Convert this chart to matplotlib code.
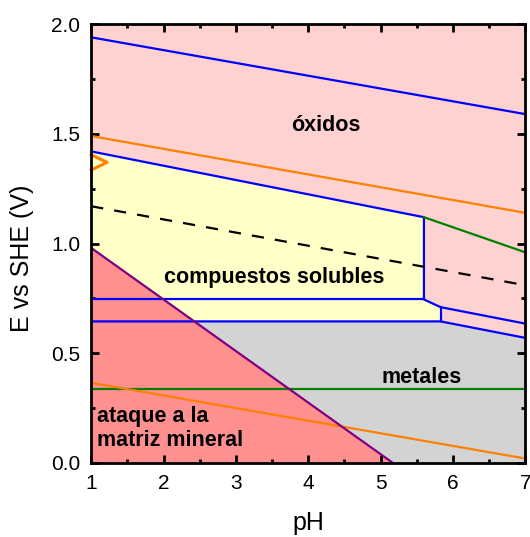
import matplotlib.pyplot as plt
from matplotlib.ticker import MultipleLocator

plt.rcParams['font.family'] = ['Liberation Sans', 'DejaVu Sans']

# boundary lines (pH, E)
blue_top_x = [1, 7]
blue_top_y = [1.94, 1.59]
orange_top_x = [1, 7]
orange_top_y = [1.49, 1.14]
blue_sol_x = [1, 5.6, 5.6, 5.83, 7]
blue_sol_y = [1.42, 1.12, 0.745, 0.71, 0.635]
blue_mid_x = [1, 5.6]
blue_mid_y = [0.745, 0.745]
blue_low_x = [1, 5.83, 7]
blue_low_y = [0.645, 0.645, 0.57]
blue_step_x = [5.83, 5.83]
blue_step_y = [0.71, 0.645]
green_top_x = [5.6, 7]
green_top_y = [1.12, 0.96]
green_low_x = [1, 7]
green_low_y = [0.335, 0.335]
orange_low_x = [1, 7]
orange_low_y = [0.365, 0.02]
purple_x = [1, 5.17]
purple_y = [0.98, 0.0]
dash_x = [1, 7]
dash_y = [1.17, 0.81]
chevron_x = [1, 1.22, 1]
chevron_y = [1.405, 1.37, 1.335]

# filled regions
yellow_x = [1, 5.6, 5.6, 5.83, 5.83, 1]
yellow_y = [1.42, 1.12, 0.745, 0.71, 0.645, 0.645]
red_x = [1, 1, 5.17]
red_y = [0.0, 0.98, 0.0]

fig = plt.figure(figsize=(5.30, 5.37), dpi=100)
ax = fig.add_axes([0.172, 0.138, 0.819, 0.817])
ax.set_facecolor('#FFD2D2')

ax.fill_between(blue_low_x, blue_low_y, 0, color='#D3D3D3', lw=0)
ax.fill(yellow_x, yellow_y, color='#FFFFC8', lw=0)
ax.fill(red_x, red_y, color='#FF9090', lw=0)

lw = 1.6
ax.plot(blue_top_x, blue_top_y, color='#0000FF', lw=lw)
ax.plot(orange_top_x, orange_top_y, color='#FF8000', lw=lw)
ax.plot(blue_sol_x, blue_sol_y, color='#0000FF', lw=lw)
ax.plot(blue_mid_x, blue_mid_y, color='#0000FF', lw=lw)
ax.plot(blue_low_x, blue_low_y, color='#0000FF', lw=lw)
ax.plot(blue_step_x, blue_step_y, color='#0000FF', lw=lw)
ax.plot(green_top_x, green_top_y, color='#008000', lw=lw)
ax.plot(green_low_x, green_low_y, color='#008000', lw=lw)
ax.plot(orange_low_x, orange_low_y, color='#FF8000', lw=lw)
ax.plot(purple_x, purple_y, color='#800080', lw=lw)
ax.plot(dash_x, dash_y, color='black', lw=lw, ls=(0, (5.5, 5)))
ax.plot(chevron_x, chevron_y, color='#FF8000', lw=2.2, clip_on=False)

ax.text(4.24, 1.54, 'óxidos', fontsize=15.5, fontweight='bold', ha='center', va='center')
ax.text(3.53, 0.845, 'compuestos solubles', fontsize=15.5, fontweight='bold', ha='center', va='center')
ax.text(5.57, 0.39, 'metales', fontsize=15.5, fontweight='bold', ha='center', va='center')
ax.text(1.08, 0.155, 'ataque a la\nmatriz mineral', fontsize=15.5, fontweight='bold',
        ha='left', va='center', linespacing=1.2)

ax.set_xlim(1, 7)
ax.set_ylim(0, 2)
ax.xaxis.set_major_locator(MultipleLocator(1))
ax.xaxis.set_minor_locator(MultipleLocator(0.5))
ax.yaxis.set_major_locator(MultipleLocator(0.5))
ax.yaxis.set_minor_locator(MultipleLocator(0.25))
ax.tick_params(which='both', direction='in', top=True, right=True, width=2)
ax.tick_params(which='major', length=6, labelsize=15, pad=8)
ax.tick_params(which='minor', length=3)
for s in ax.spines.values():
    s.set_linewidth(2)

ax.set_xlabel('pH', fontsize=18, va='center')
ax.set_ylabel('E vs SHE (V)', fontsize=18, va='center')
ax.xaxis.set_label_coords(0.5, -0.138)
ax.yaxis.set_label_coords(-0.159, 0.467)

fig.savefig('out.png', dpi=100)
